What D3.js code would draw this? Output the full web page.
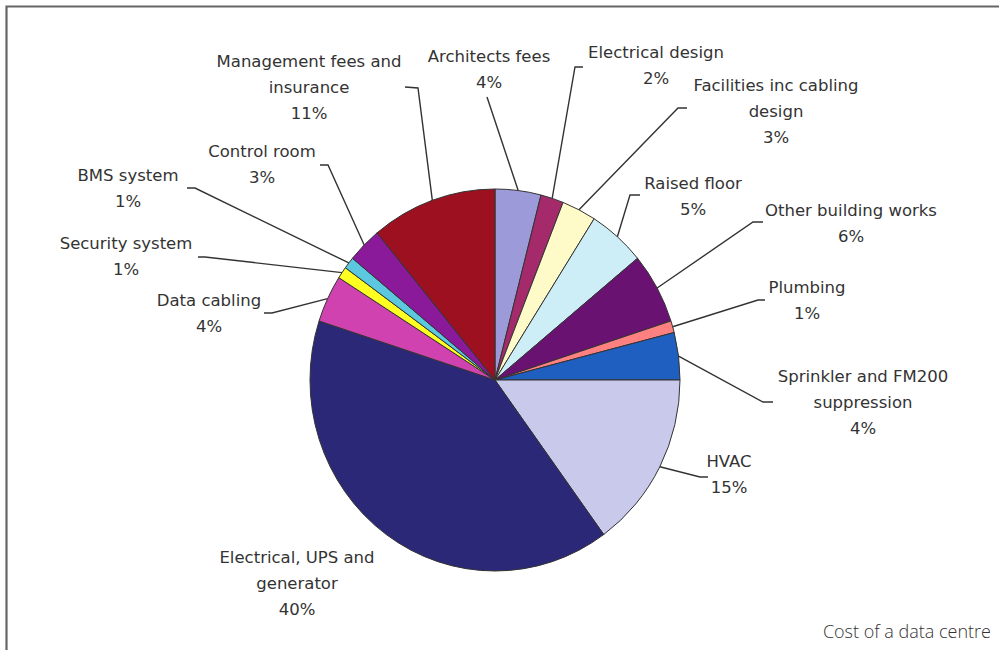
<!DOCTYPE html>
<html>
<head>
<meta charset="utf-8">
<script src="https://cdn.jsdelivr.net/npm/d3@7"></script>
<style>
  html, body { margin: 0; padding: 0; background: #fff; }
  svg { display: block; }
</style>
</head>
<body>
<div id="chart"></div>
<script>
// slices, clockwise from 12 o'clock
const categories = [
  'Architects fees',
  'Electrical design',
  'Facilities inc cabling\ndesign',
  'Raised floor',
  'Other building works',
  'Plumbing',
  'Sprinkler and FM200\nsuppression',
  'HVAC',
  'Electrical, UPS and\ngenerator',
  'Data cabling',
  'Security system',
  'BMS system',
  'Control room',
  'Management fees and\ninsurance'
];
const values = [4, 2, 3, 5, 6, 1, 4, 15, 40, 4, 1, 1, 3, 11];
const colors = [
  '#9c9ad8', '#a52a6c', '#fffbc8', '#cdeef6', '#6a1272', '#ff8080', '#1f5fbf',
  '#c9c9ec', '#2b2878', '#d042b0', '#ffff22', '#5cc8e0', '#8b1a9a', '#9c1020'
];
const caption = 'Cost of a data centre';

// label placement: centre x, first baseline, leader bend + end (null = no leader)
const labelLayout = [
  {x: 489, y: 62, bend: [487, 97], end: [487, 97]},
  {x: 656, y: 58, bend: [575, 67], end: [583, 67]},
  {x: 776, y: 91, bend: [678, 108], end: [687, 108]},
  {x: 693, y: 189, bend: [630, 195], end: [640, 195]},
  {x: 851, y: 216, bend: [753, 222], end: [763, 222]},
  {x: 807, y: 293, bend: [758, 300], end: [765, 300]},
  {x: 863, y: 382, bend: [763, 402], end: [773, 402]},
  {x: 729, y: 467, bend: [700, 477], end: [708, 477]},
  {x: 297, y: 563, bend: null, end: null},
  {x: 209, y: 306, bend: [272, 313], end: [264, 313]},
  {x: 126, y: 249, bend: [205, 257], end: [198, 257]},
  {x: 128, y: 181, bend: [195, 188], end: [187, 188]},
  {x: 262, y: 157, bend: [328, 165], end: [320, 165]},
  {x: 309, y: 67, bend: [418, 88], end: [405, 87]}
];

const width = 999;
const height = 650;
const cx = 495, cy = 380;
const rx = 185, ry = 191;
const lineHeight = 26;

const svg = d3.select('#chart')
  .append('svg')
  .attr('width', width)
  .attr('height', height);

// frame (top + left edges only)
svg.append('path')
  .attr('d', `M6.5,${height} V6.5 H${width}`)
  .attr('fill', 'none')
  .attr('stroke', '#666')
  .attr('stroke-width', 2.2);

const slices = d3.pie().sort(null).value(d => d)(values);
const arc = d3.arc().innerRadius(0).outerRadius(rx);
const edge = d3.arc().innerRadius(rx).outerRadius(rx);

const pieG = svg.append('g')
  .attr('transform', `translate(${cx},${cy}) scale(1,${ry / rx})`);

pieG.selectAll('path.slice')
  .data(slices)
  .join('path')
  .attr('class', 'slice')
  .attr('d', arc)
  .attr('fill', (d, i) => colors[i])
  .attr('stroke', '#333')
  .attr('stroke-width', 1)
  .attr('vector-effect', 'non-scaling-stroke');

// leader lines
const leaders = svg.append('g')
  .attr('fill', 'none')
  .attr('stroke', '#333')
  .attr('stroke-width', 1.4);

slices.forEach((d, i) => {
  const lay = labelLayout[i];
  if (!lay.bend) return;
  const c = edge.centroid(d);
  const p = [cx + c[0], cy + c[1] * ry / rx];
  leaders.append('path')
    .attr('d', d3.line()([p, lay.bend, lay.end]));
});

// labels
const labels = svg.append('g')
  .attr('font-family', 'DejaVu Sans, sans-serif')
  .attr('font-size', 16.5)
  .attr('fill', '#333')
  .attr('text-anchor', 'middle');

slices.forEach((d, i) => {
  const lay = labelLayout[i];
  const lines = categories[i].split('\n').concat(`${values[i]}%`);
  const t = labels.append('text')
    .attr('x', lay.x)
    .attr('y', lay.y);
  lines.forEach((ln, k) => {
    t.append('tspan')
      .attr('x', lay.x)
      .attr('dy', k === 0 ? 0 : lineHeight)
      .text(ln);
  });
});

svg.append('text')
  .attr('x', 991)
  .attr('y', 638)
  .attr('text-anchor', 'end')
  .attr('font-family', 'Open Sans, sans-serif')
  .attr('font-weight', 300)
  .attr('font-size', 18)
  .attr('fill', '#333')
  .text(caption);
</script>
</body>
</html>
